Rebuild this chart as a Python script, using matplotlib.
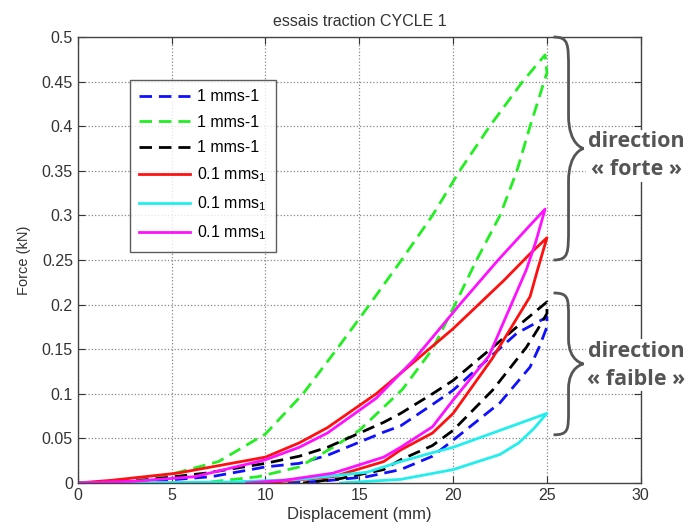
import numpy as np
import matplotlib
matplotlib.use("Agg")
import matplotlib.pyplot as plt
from matplotlib.path import Path
from matplotlib.patches import PathPatch
from matplotlib.ticker import FuncFormatter

plt.rcParams['font.family'] = ['Liberation Sans', 'DejaVu Sans']
plt.rcParams['mathtext.fontset'] = 'custom'
plt.rcParams['mathtext.rm'] = 'Liberation Sans'
plt.rcParams['mathtext.it'] = 'Liberation Sans'

# ---- data (displacement mm, force kN), loading branch then unloading branch ----
blue_x = [0, 4, 7.1, 10, 11.8, 13.3, 16.3, 17.2, 18.9, 20, 23.4, 25,
          25, 24.6, 24.1, 22.5, 20, 18.9, 17.2, 15.4, 13, 11]
blue_y = [0, 0.002, 0.007, 0.018, 0.022, 0.031, 0.057, 0.064, 0.088, 0.104, 0.168, 0.186,
          0.175, 0.153, 0.13, 0.09, 0.048, 0.03, 0.015, 0.007, 0.002, 0]

green_x = [0, 2.5, 5, 7.5, 10, 12, 13.8, 15.2, 17.25, 18.9, 20.35, 21.95, 23.7, 24.9,
           25, 24.1, 23.4, 22.5, 21.25, 20.1, 18.9, 17.3, 15, 13.6, 11.8, 9.6, 7]
green_y = [0, 0.003, 0.01, 0.024, 0.055, 0.1, 0.15, 0.19, 0.25, 0.30, 0.35, 0.40, 0.45, 0.48,
           0.46, 0.40, 0.35, 0.30, 0.25, 0.20, 0.15, 0.105, 0.059, 0.04, 0.018, 0.007, 0.001]

black_x = [0, 3, 6.8, 10, 11.8, 13.3, 16.3, 17.2, 18.9, 20, 23.4, 25,
           25, 24.5, 23.9, 22.1, 20, 18.9, 17.2, 16.3, 14, 12]
black_y = [0, 0.002, 0.011, 0.022, 0.03, 0.04, 0.068, 0.078, 0.100, 0.115, 0.175, 0.203,
           0.19, 0.172, 0.152, 0.104, 0.059, 0.042, 0.026, 0.015, 0.005, 0]

red_x = [0, 1.8, 5.3, 10, 11.8, 13.3, 15.9, 17.2, 18.6, 20, 21.25, 22.7, 24.1, 25,
         24.5, 24.1, 22.1, 20, 18.9, 17.2, 16.3, 13.6, 10]
red_y = [0, 0.003, 0.011, 0.029, 0.045, 0.062, 0.10, 0.123, 0.148, 0.173, 0.198, 0.227, 0.257, 0.275,
         0.239, 0.209, 0.14, 0.078, 0.056, 0.037, 0.024, 0.007, 0]

cyan_x = [0, 8, 11.8, 15.4, 17.2, 18.9, 20, 22.5, 25,
          24.3, 23.5, 22.5, 20, 17.2, 14]
cyan_y = [0, 0.001, 0.004, 0.012, 0.024, 0.034, 0.04, 0.059, 0.078,
          0.061, 0.045, 0.032, 0.015, 0.004, 0]

magenta_x = [0, 3, 6.2, 10, 11.8, 13.3, 15.9, 17.2, 17.9, 20.35, 22.4, 24.1, 24.9,
             24.4, 23.9, 21.9, 20, 18.9, 17.2, 16.3, 13.6, 11, 9]
magenta_y = [0, 0.002, 0.007, 0.026, 0.04, 0.056, 0.095, 0.123, 0.138, 0.2, 0.25, 0.289, 0.307,
             0.27, 0.239, 0.142, 0.093, 0.063, 0.04, 0.029, 0.011, 0.003, 0]

labels = ['1 mms-1', '1 mms-1', '1 mms-1',
          '0.1 mms$_1$', '0.1 mms$_1$', '0.1 mms$_1$']
colors = ['#1010ff', '#22ee22', '#000000', '#ff1010', '#22eeee', '#ff10ff']
styles = ['--', '--', '--', '-', '-', '-']
series = [(blue_x, blue_y), (green_x, green_y), (black_x, black_y),
          (red_x, red_y), (cyan_x, cyan_y), (magenta_x, magenta_y)]

x_ticks = [0, 5, 10, 15, 20, 25, 30]
y_ticks = [0, 0.05, 0.1, 0.15, 0.2, 0.25, 0.3, 0.35, 0.4, 0.45, 0.5]

title = 'essais traction CYCLE 1'
xlabel = 'Displacement (mm)'
ylabel = 'Force (kN)'
annot_texts = ['direction\n« forte »', 'direction\n« faible »']
brace_ranges = [(0.25, 0.5), (0.054, 0.213)]
annot_y = [0.367, 0.132]

fig = plt.figure(figsize=(6.89, 5.29), dpi=100)
ax = fig.add_axes([0.113, 0.087, 0.817, 0.843])

for (xs, ys), c, ls, lab in zip(series, colors, styles, labels):
    if ls == '--':
        ax.plot(xs, ys, color=c, lw=2.0, ls=ls, dashes=(4.5, 2.5), label=lab)
    else:
        ax.plot(xs, ys, color=c, lw=2.0, ls=ls, label=lab)

ax.set_xlim(0, 30)
ax.set_ylim(0, 0.5)
ax.set_xticks(x_ticks)
ax.set_yticks(y_ticks)
ax.yaxis.set_major_formatter(FuncFormatter(lambda v, p: f'{v:g}'))
ax.tick_params(direction='in', length=5, top=True, right=True, labelsize=11.5,
               color='#333333', labelcolor='#333333', width=0.8)
ax.grid(True, ls=':', color='#888888', lw=0.9)
for s in ax.spines.values():
    s.set_color('#444444')
    s.set_linewidth(1.0)

ax.set_title(title, fontsize=11.5, color='#333333', pad=8)
ax.set_xlabel(xlabel, fontsize=12, color='#333333', labelpad=3)
ax.set_ylabel(ylabel, fontsize=10.5, color='#333333', labelpad=8)

leg = ax.legend(loc='upper left', bbox_to_anchor=(0.092, 0.904), borderaxespad=0,
                fontsize=11.5, frameon=True, fancybox=False, edgecolor='#333333',
                handlelength=3.2, labelspacing=0.65, borderpad=0.6,
                handletextpad=0.4)
leg.get_frame().set_linewidth(1.0)

# braces
def brace(ax, x0, w, y1, y2):
    ym = (y1 + y2) / 2.0
    xm = x0 + w / 2.0
    r = 0.025 * (y2 - y1) / 0.25 + 0.012
    verts = [(x0, y2),
             (xm, y2), (xm, y2 - r * 0.2), (xm, y2 - r),
             (xm, ym + r),
             (xm, ym + r * 0.1), (x0 + w, ym), (x0 + w, ym),
             (x0 + w, ym), (xm, ym - r * 0.1), (xm, ym - r),
             (xm, y1 + r),
             (xm, y1 + r * 0.2), (xm, y1), (x0, y1)]
    codes = [Path.MOVETO,
             Path.CURVE4, Path.CURVE4, Path.CURVE4,
             Path.LINETO,
             Path.CURVE4, Path.CURVE4, Path.CURVE4,
             Path.CURVE4, Path.CURVE4, Path.CURVE4,
             Path.LINETO,
             Path.CURVE4, Path.CURVE4, Path.CURVE4]
    p = PathPatch(Path(verts, codes), fill=False, edgecolor='#555555', lw=2.0,
                  clip_on=False, zorder=5)
    ax.add_patch(p)

for (y1, y2) in brace_ranges:
    brace(ax, 25.35, 1.6, y1, y2)

for txt, yv in zip(annot_texts, annot_y):
    ax.text(29.75, yv, txt, ha='center', va='center', fontsize=15.5,
            fontweight='bold', family=['Open Sans', 'DejaVu Sans'],
            color='#555555', linespacing=1.45, zorder=6, clip_on=False,
            bbox=dict(facecolor='white', edgecolor='none', pad=1))

fig.savefig('out.png', dpi=100)
